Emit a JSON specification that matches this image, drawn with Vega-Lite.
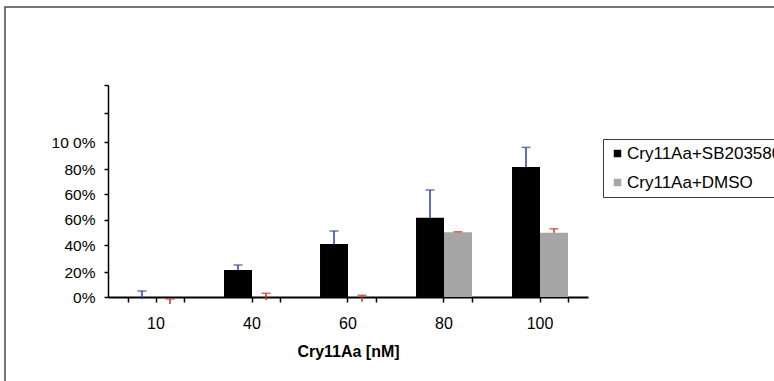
{
  "$schema": "https://vega.github.io/schema/vega-lite/v6.json",
  "width": 771,
  "height": 376,
  "autosize": {"type": "none"},
  "padding": {"left": 5, "top": 7, "right": -2, "bottom": -2},
  "background": "white",
  "config": {
    "font": "Liberation Sans",
    "view": {"stroke": "#4a4a4a", "strokeWidth": 1.5}
  },
  "data": {
    "values": [
      {"conc": "10", "series": "Cry11Aa+SB203580", "value": 0, "lo": -1.6, "hi": 4.8},
      {"conc": "40", "series": "Cry11Aa+SB203580", "value": 21.5, "lo": 21.5, "hi": 25.2},
      {"conc": "60", "series": "Cry11Aa+SB203580", "value": 40.8, "lo": 40.8, "hi": 51},
      {"conc": "80", "series": "Cry11Aa+SB203580", "value": 60.7, "lo": 60.7, "hi": 71.6},
      {"conc": "100", "series": "Cry11Aa+SB203580", "value": 81.5, "lo": 81.5, "hi": 96},
      {"conc": "10", "series": "Cry11Aa+DMSO", "value": 0, "lo": -5.6, "hi": -1.6},
      {"conc": "40", "series": "Cry11Aa+DMSO", "value": 0, "lo": -2.4, "hi": 3},
      {"conc": "60", "series": "Cry11Aa+DMSO", "value": 0, "lo": -3.8, "hi": 1.4},
      {"conc": "80", "series": "Cry11Aa+DMSO", "value": 50, "lo": 50, "hi": 50.4},
      {"conc": "100", "series": "Cry11Aa+DMSO", "value": 49.6, "lo": 49.6, "hi": 52.7}
    ]
  },
  "layer": [
    {
      "mark": {"type": "bar"},
      "encoding": {
        "x": {
          "field": "conc", "type": "nominal",
          "scale": {"domain": ["10", "40", "60", "80", "100"], "range": [103, 583], "paddingInner": 0.417, "paddingOuter": 0.2085},
          "axis": {
            "orient": "bottom", "offset": -86,
            "title": "Cry11Aa [nM]", "titleFontSize": 16, "titleFontWeight": "bold", "titleColor": "black", "titlePadding": 12,
            "labelAngle": 0, "labelFontSize": 16, "labelColor": "black", "labelPadding": 13,
            "tickSize": 5, "tickColor": "black", "tickWidth": 1.5,
            "domainColor": "black", "domainWidth": 2
          }
        },
        "xOffset": {
          "field": "series", "type": "nominal",
          "scale": {"domain": ["Cry11Aa+SB203580", "Cry11Aa+DMSO"], "paddingInner": 0, "paddingOuter": 0}
        },
        "y": {
          "field": "value", "type": "quantitative", "title": null,
          "scale": {"domain": [0, 20, 40, 60, 70, 80, 100, 120, 140], "range": [290, 265, 238, 212.5, 187, 162, 135, 106, 78], "nice": false, "zero": false},
          "axis": {
            "orient": "left", "offset": -103, "title": null, "grid": false,
            "values": [0, 20, 40, 60, 70, 80, 100, 120, 140],
            "labelExpr": "datum.value == 70 ? '60%' : datum.value == 100 ? '10 0%' : datum.value > 100 ? '' : datum.value + '%'",
            "labelOverlap": false, "labelBound": false,
            "labelFontSize": 15.5, "labelColor": "black", "labelPadding": 9,
            "tickSize": 4, "tickColor": "black", "tickWidth": 1.5,
            "domainColor": "black", "domainWidth": 1.5
          }
        },
        "color": {
          "field": "series", "type": "nominal",
          "scale": {"domain": ["Cry11Aa+SB203580", "Cry11Aa+DMSO"], "range": ["#000000", "#a6a6a6"]},
          "legend": {
            "orient": "none", "legendX": 598, "legendY": 132, "title": null,
            "strokeColor": "#3a3a3a", "fillColor": "white", "padding": 6,
            "labelFontSize": 17, "labelColor": "black", "labelOffset": 1,
            "symbolType": "square", "symbolSize": 56, "symbolStrokeWidth": 0,
            "rowPadding": 11
          }
        }
      }
    },
    {
      "mark": {"type": "rule", "strokeWidth": 1.5},
      "encoding": {
        "x": {
          "field": "conc", "type": "nominal",
          "axis": {
            "orient": "bottom", "offset": -86, "tickBand": "extent",
            "labels": false, "domain": false, "title": null,
            "tickSize": 5, "tickColor": "black", "tickWidth": 1.5
          }
        },
        "xOffset": {"field": "series", "type": "nominal"},
        "y": {
          "field": "lo", "type": "quantitative", "title": null,
          "axis": {
            "orient": "left", "offset": -103, "title": null, "grid": false,
            "values": [0, 20, 40, 60, 70, 80, 100, 120, 140],
            "labelExpr": "datum.value == 70 ? '60%' : datum.value == 100 ? '10 0%' : datum.value > 100 ? '' : datum.value + '%'",
            "labelOverlap": false, "labelBound": false,
            "labelFontSize": 15.5, "labelColor": "black", "labelPadding": 9,
            "tickSize": 4, "tickColor": "black", "tickWidth": 1.5,
            "domainColor": "black", "domainWidth": 1.5
          }
        },
        "y2": {"field": "hi"},
        "color": {
          "field": "series", "type": "nominal",
          "scale": {"domain": ["Cry11Aa+SB203580", "Cry11Aa+DMSO"], "range": ["#2c3caa", "#c0331f"]},
          "legend": null
        }
      }
    },
    {
      "mark": {"type": "tick", "size": 9, "thickness": 1.5},
      "encoding": {
        "x": {"field": "conc", "type": "nominal", "axis": null},
        "xOffset": {"field": "series", "type": "nominal"},
        "y": {
          "field": "hi", "type": "quantitative", "title": null,
          "axis": {
            "orient": "left", "offset": -103, "title": null, "grid": false,
            "values": [0, 20, 40, 60, 70, 80, 100, 120, 140],
            "labelExpr": "datum.value == 70 ? '60%' : datum.value == 100 ? '10 0%' : datum.value > 100 ? '' : datum.value + '%'",
            "labelOverlap": false, "labelBound": false,
            "labelFontSize": 15.5, "labelColor": "black", "labelPadding": 9,
            "tickSize": 4, "tickColor": "black", "tickWidth": 1.5,
            "domainColor": "black", "domainWidth": 1.5
          }
        },
        "color": {
          "field": "series", "type": "nominal",
          "scale": {"domain": ["Cry11Aa+SB203580", "Cry11Aa+DMSO"], "range": ["#2c3caa", "#c0331f"]},
          "legend": null
        }
      }
    }
  ],
  "resolve": {"scale": {"color": "independent"}, "axis": {"x": "independent"}}
}
